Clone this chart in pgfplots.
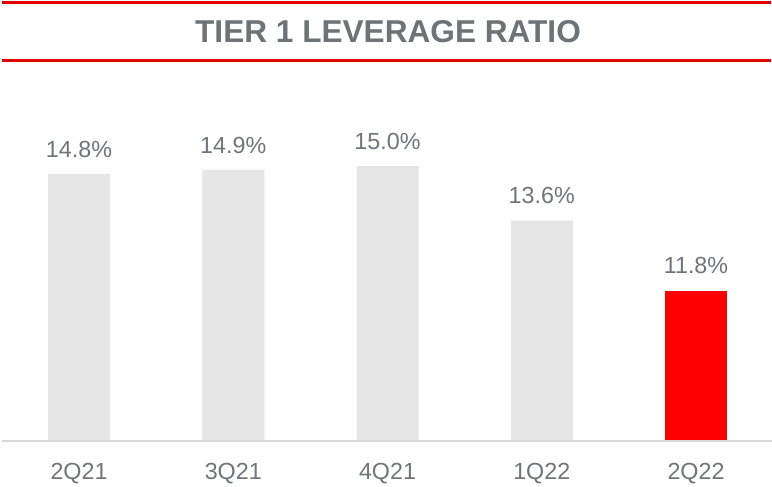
\documentclass[border=0pt]{standalone}
\usepackage{fontspec}
\setmainfont{Liberation Sans}
\usepackage{pgfplots}
\pgfplotsset{compat=1.18}
\definecolor{txtgray}{HTML}{6F7579}
\definecolor{titlegray}{HTML}{6D7376}
\definecolor{bargray}{HTML}{E6E6E6}
\definecolor{axisgray}{HTML}{D9D9D9}
\definecolor{titlered}{HTML}{E00000}
\begin{document}
\begin{tikzpicture}[x=1pt,y=1pt]
\useasboundingbox (0pt,0pt) rectangle (772pt,487pt);
\draw[titlered, line width=3pt] (2pt,484pt) -- (771pt,484pt);
\draw[titlered, line width=3pt] (2pt,426pt) -- (771pt,426pt);
\node[text=titlegray, font=\fontsize{31.6}{36}\selectfont\bfseries] at (388pt,455pt) {TIER 1 LEVERAGE RATIO};
\begin{axis}[
  at={(1.875pt,46pt)}, anchor=south west,
  scale only axis, width=771.25pt, height=341.1pt,
  xmin=-0.5, xmax=4.5, ymin=7.94, ymax=16.7,
  axis x line*=bottom, axis y line=none,
  x axis line style={axisgray, line width=1.8pt, -},
  xtick={0,1,2,3,4}, xticklabels={2Q21,3Q21,4Q21,1Q22,2Q22},
  major tick length=0pt,
  xticklabel style={text=txtgray, font=\fontsize{23.3}{28}\selectfont, anchor=base, yshift=-38.5pt},
  axis on top,
  /pgf/number format/assume math mode=true,
  nodes near coords={\pgfmathprintnumber[fixed,fixed zerofill,precision=1]{\pgfplotspointmeta}\%},
  nodes near coords style={text=txtgray, font=\fontsize{23.3}{28}\selectfont, anchor=base, yshift=16.7pt},
]
\addplot[ybar, bar width=62pt, bar shift=0pt, fill=bargray, draw=none] coordinates {(0,14.8) (1,14.9) (2,15.0) (3,13.6)};
\addplot[ybar, bar width=62pt, bar shift=0pt, fill=red, draw=none] coordinates {(4,11.8)};
\end{axis}
\end{tikzpicture}
\end{document}
